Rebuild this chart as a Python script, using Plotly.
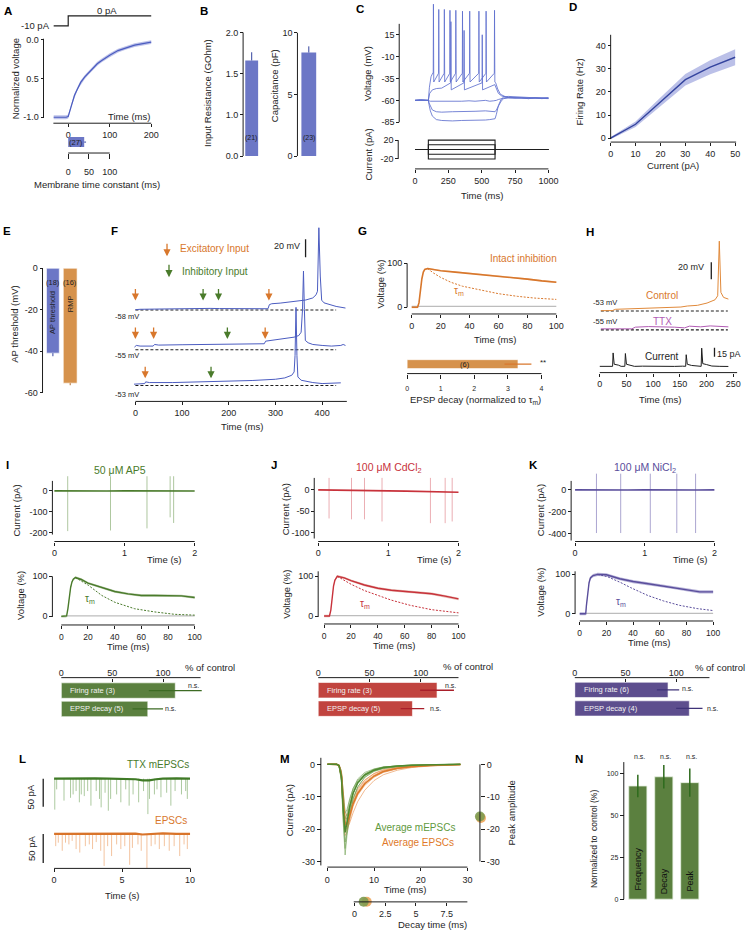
import plotly.graph_objects as go

W, H = 753, 935
FONT = "Liberation Sans, Arial, Helvetica, sans-serif"
INK = "#1e1e1e"

BLUE_BAR = "#6c77c6"; BLUE_LINE = "#4b5cc0"; BLUE_DARK = "#34449e"; BLUE_BAND = "rgba(108,120,206,0.45)"
BLUE_TRACE = "#6070cf"
ORANGE_BAR = "#d6924c"; ORANGE = "#d8772c"; ORANGE_BAND = "rgba(222,140,70,0.40)"
GREEN = "#4a7b2b"; GREEN_BAR = "#5b803f"; GREEN_LIGHT = "rgba(90,140,60,0.55)"; GREEN_BAND = "rgba(100,140,70,0.45)"
RED = "#c8323b"; RED_BAR = "#c1443f"; RED_LIGHT = "rgba(215,90,100,0.55)"; RED_BAND = "rgba(200,110,90,0.45)"
PURPLE = "#5a4e9c"; PURPLE_BAR = "#5d4e8e"; PURPLE_LIGHT = "rgba(100,90,170,0.6)"; PURPLE_BAND = "rgba(100,90,170,0.45)"
TTX_C = "#b25cb4"
GRAY = "#bdbdbd"

# ======================= DATA =======================
# A
A_t = [-35, -20, -5, 0, 3, 6, 10, 15, 20, 25, 30, 40, 50, 60, 70, 80, 90, 100, 120, 140, 160, 180, 200]
A_v = [-1.0, -1.0, -1.0, -0.99, -0.93, -0.87, -0.8, -0.72, -0.66, -0.6, -0.55, -0.48, -0.42, -0.36,
       -0.31, -0.27, -0.23, -0.2, -0.14, -0.1, -0.07, -0.05, -0.03]
A_sem = 0.025
A_stim_t = [-35, 0, 0, 200]
A_stim_i = [-10, -10, 0, 0]
A_tau, A_tau_sem = 38.5, 4.5
# B
B_rin, B_rin_sem = 1.66, 0.1
B_cap, B_cap_sem = 8.4, 0.5
# C
C_sub_t = [0, 40, 95, 100, 105, 115, 130, 160, 200, 280, 350, 405, 450, 528, 560, 590, 600, 610, 625,
           645, 665, 700, 750, 800, 850, 900, 950, 1000]
C_v0 = [-60, -59.5, -60, -60, -60.5, -61, -61, -61, -61.5, -61, -61, -60.5, -61, -60, -61, -60.5, -60.5,
        -60, -59, -58, -57.5, -57, -57.5, -57, -58, -57, -58, -57.5]
C_vm10 = [-60, -60, -60, -60, -63, -67, -71, -73, -73.5, -73, -72.5, -72, -72.5, -72, -72.5, -73, -73,
          -71, -66, -61, -58, -57, -57, -57.5, -58, -57.5, -58, -58]
C_vm20 = [-60, -59.5, -60, -60, -65, -72, -78, -82, -83, -83.5, -83, -83, -82.5, -82.5, -82, -81.5, -81,
          -76, -66, -59, -56, -55.5, -56, -56.5, -57, -57, -57.5, -57.5]
C20_pre_t = [0, 50, 95, 100, 108, 120, 132]
C20_pre_v = [-60, -59.5, -60, -60, -45, -33, -29]
C20_spk_t = [138, 178, 220, 262, 306, 356, 410, 479, 533, 596]
C20_spk_pk = [50, 44, 44, 43, 43, 42, 42, 42, 42, 43]
C20_thr, C20_ahp = -29, -39
C20_post_t = [605, 620, 640, 680, 750, 850, 1000]
C20_post_v = [-40, -47, -53, -56, -57, -57.5, -57]
C10_pre_t = [0, 60, 95, 100, 110, 130, 160, 200]
C10_pre_v = [-60, -60.5, -60, -60, -52, -48, -46.5, -46]
C10_spk_t = [269, 368, 504]
C10_spk_pk = [30, 20, 15]
C10_thr, C10_ahp = -40, -48
C10_post_t = [598, 610, 625, 650, 700, 800, 1000]
C10_post_v = [-42, -46, -52, -55, -57, -57, -57.5]
C_levels = [20, 10, 0, -10, -20]
C_step_t = [0, 100, 100, 600, 600, 1000]
# D
D_I = [0, 10, 20, 30, 40, 50]
D_f = [0, 6, 15.6, 25.3, 30.7, 35]
D_sem = [0.5, 1.2, 2, 2.5, 3, 3.5]
# E
E_vals = [-41, -55.5]
E_sem = [1.5, 1.0]
# F
F1_t = [0, 10, 40, 80, 120, 145, 160, 180, 220, 260, 284, 287, 292, 310, 340, 365, 380, 387, 390, 393,
        396, 399, 404, 415, 430, 450]
F1_v = [-57.6, -57.2, -57.0, -56.6, -56.2, -55.8, -56.2, -56.4, -56.6, -56.6, -56.6, -52.0, -51.0, -50.3,
        -48.6, -46.8, -44.5, -41.0, -37.0, 34.0, -20.0, -47.0, -50.0, -52.0, -54.0, -55.8]
F2_t = [-2, 2, 10, 38, 41, 50, 100, 150, 200, 250, 276, 279, 285, 300, 320, 340, 350, 355, 358, 360, 362,
        364, 370, 380, 400, 420, 440, 445, 450]
F2_v = [-52.0, -50.2, -50.9, -50.9, -49.1, -49.8, -49.4, -49.1, -49.4, -48.7, -48.3, -45.4, -45.0, -44.3,
        -42.8, -40.9, -39.1, -35.4, -10.0, 33.0, -10.0, -44.6, -47.2, -49.1, -50.2, -50.9, -50.2, -49.1, -50.2]
F3_t = [-3, 10, 20, 22, 30, 80, 150, 200, 250, 300, 320, 335, 340, 342, 344, 346, 348, 355, 380, 400, 420, 440]
F3_v = [-51.5, -51.5, -50.8, -48.9, -49.7, -49.7, -48.9, -48.2, -47.4, -46.0, -44.5, -41.5, -37.8, -19.3,
        34.4, -19.3, -43.4, -47.1, -49.7, -50.8, -50.8, -50.0]
F_rest = [-58, -55, -53]
F1_exc, F1_inh, F1_arr = [0, 286], [145, 178], -47.5
F2_exc, F2_inh, F2_arr = [0, 39, 278], [197], -43
F3_exc, F3_inh, F3_arr = [21], [162], -45
# G
G_t = [0, 4, 5, 6, 7, 8, 9, 11, 15, 20, 30, 40, 50, 60, 70, 80, 90, 100]
G_v = [0, 0, 10, 40, 65, 80, 86, 88, 86, 83, 80, 77, 74, 71, 68, 64, 60, 57]
G_tau_t = [11, 15, 20, 27, 35, 50, 60, 73, 85, 100]
G_tau_v = [88, 78, 68, 57, 48, 37, 31, 25, 21, 18]
G_sem = 2
G_base_t, G_base_v = [0, 100], [2, 2]
G_decay, G_decay_sem = 3.3, 0.4
# H
H_ctrl_t = [2, 23.5, 29.6, 60, 91, 103, 152, 164, 183, 201, 216, 221, 224, 227, 232, 241]
H_ctrl_v = [-52.6, -52.5, -51, -50.3, -49.5, -48.6, -48.3, -47.1, -46.3, -43.6, -39.7, -35, 29.7, -31, -36.9, -38.9]
H_ttx_t = [2, 60, 66.7, 91, 140, 159, 168, 189, 207, 241]
H_ttx_v = [-53.8, -53.8, -51.8, -51.1, -51.8, -52.6, -50.6, -51.4, -50.3, -51.4]
H_cur_t = [0, 10, 20, 24, 25, 27, 35, 40, 47, 48, 50, 58, 65, 80, 100, 120, 140, 155, 161, 162, 164, 172,
           180, 190, 191, 193, 200, 210, 225, 241]
H_cur_v = [0.5, 0.8, 0.3, 0.5, 23, 4, 2.5, 0.5, 0.6, 22, 4, 2, 0.5, 0.8, 0.3, 0.6, 0.4, 0.8, 0.6, 20, 4, 2,
           0.8, 0.5, 31, 5, 3.5, 1, 0.5, 0.3]
# I / J / K
BASE_T = [0, 0.25, 0.5, 0.75, 1.0, 1.25, 1.5, 1.75, 2.0]
I_base_v = [0, -1, 0, -1, 0, -1, -1, 0, -1]
I_spk_t = [0.19, 0.80, 1.32, 1.65, 1.70]
I_spk_lo = [-193, -190, -180, -127, -154]
I_spk_hi = 70
I_t = [0, 3, 4, 5, 6, 7, 8, 9, 10.6, 15, 20, 30, 40, 50, 60, 70, 80, 90, 100]
I_v = [0, 0, 1, 20, 50, 72, 86, 93, 97, 92, 83, 73, 62, 56, 52, 52, 52, 51, 47]
I_tau_t = [10.6, 20.5, 30.4, 40.2, 55, 70, 85, 100]
I_tau_v = [97, 77, 52, 35, 19, 11, 5, 3]
I_sem = 3
I_bar, I_bar_sem = [112, 85], [26, 15]
I_bar_lbl = ["Firing rate (3)", "EPSP decay (5)"]

J_base_v = [0, -1, -1.5, -2, -2.5, -3, -3.5, -4.5, -5.5]
J_spk_t = [0.155, 0.475, 0.66, 0.91, 1.60, 1.81, 1.91]
J_spk_lo = [-67, -69, -69, -74, -78, -78, -74]
J_spk_hi = 28
J_t = [0, 4, 5, 6, 7, 8, 9.8, 15, 20, 30, 40, 50, 60, 70, 80, 90, 100]
J_v = [0, 0, 15, 50, 75, 90, 100, 96, 89, 78, 70, 65, 62, 59, 56, 50, 43]
J_tau_t = [9.8, 20, 30, 40, 50, 64, 80, 100]
J_tau_v = [100, 80, 64, 52, 40, 27, 16, 8]
J_sem = 3
J_bar, J_bar_sem = [116, 92], [16.5, 11.5]
J_bar_lbl = ["Firing rate (3)", "EPSP decay (5)"]

K_base_v = [0, -2, 0, -2, 0, -2, 0, -2, 0]
K_spk_t = [0.307, 0.655, 1.08, 1.46, 1.73]
K_spk_lo = [-395, -395, -395, -395, -395]
K_spk_hi = 148
K_t = [0, 4.5, 5, 6, 7, 8, 10, 13.5, 20, 30, 40, 50, 60, 70, 80, 90, 100]
K_v = [0, 0, 20, 55, 78, 90, 96, 99, 98, 88, 81, 76, 71, 66, 61, 55, 55]
K_tau_t = [13.5, 21, 31, 38, 51, 63, 75, 88, 100]
K_tau_v = [99, 93, 78, 66, 46, 32, 21, 13, 8]
K_sem = 4
K_bar, K_bar_sem = [92, 113], [11, 13]
K_bar_lbl = ["Firing rate (6)", "EPSP decay (4)"]
# L
L1_t = [0.05, 0.19, 0.73, 1.21, 1.40, 1.62, 1.86, 2.00, 2.22, 2.47, 2.71, 3.10, 3.34, 3.46, 3.75, 3.99, 4.16,
        4.60, 4.91, 5.27, 5.52, 5.81, 6.22, 6.58, 6.90, 7.02, 7.38, 7.57, 7.86, 8.28, 8.59, 8.90, 9.37, 9.68, 9.80]
L1_amp = [55, 19, 39, 34, 28, 22, 42, 28, 31, 22, 48, 22, 36, 51, 25, 57, 36, 28, 42, 19, 48, 28, 42, 22, 63,
          36, 28, 19, 33, 25, 48, 22, 28, 22, 36]
L1_base_t = [0, 1, 2, 3, 4, 5, 6, 6.5, 7, 7.5, 8, 9, 10]
L1_base_v = [0, 0.5, 0, 0.5, 0, 0, -1, -3, -3, -1, 0, 0.5, 0]
L2_t = [0.12, 0.31, 0.60, 0.84, 1.09, 1.33, 1.62, 1.89, 2.30, 2.59, 2.83, 3.10, 3.43, 3.68, 3.94, 4.23, 4.60,
        4.91, 5.20, 5.56, 5.76, 6.17, 6.41, 6.83, 7.14, 7.43, 7.74, 8.11, 8.47, 8.83, 9.24, 9.56, 9.80]
L2_amp = [21, 15, 29, 15, 18, 12, 26, 32, 21, 18, 26, 14, 29, 55, 21, 38, 18, 26, 21, 53, 24, 18, 29, 59, 21,
          18, 26, 21, 29, 21, 38, 18, 26]
L2_base_t = [0, 1, 2, 3, 4, 5, 6, 6.5, 7, 7.5, 8, 9, 10]
L2_base_v = [0, 0, 0.5, 0, -0.5, 0, 0.5, -1, -0.5, 0.5, 1, 0, 0]
# M
M_t = [0, 1, 2, 2.5, 3, 3.4, 3.8, 4.2, 4.8, 5.5, 6.5, 8, 10, 12, 15, 18, 22, 26, 28.5]
M_green = [
    [0, 0, 0, -0.5, -5, -18, -28, -22, -16, -11, -7, -4, -2, -1.2, -0.6, -0.4, -0.2, -0.1, -0.1],
    [0, 0, 0, -0.3, -4, -15, -24, -20, -15, -10.5, -7, -4, -2.2, -1.3, -0.7, -0.4, -0.2, 0, 0],
    [0, 0.2, 0, -0.2, -3, -12, -20, -18, -13, -9, -6, -3.5, -2, -1.2, -0.6, -0.3, -0.2, -0.1, 0],
    [0, 0, 0, -0.4, -4, -13, -19, -16, -12, -8, -5, -3, -1.6, -0.9, -0.5, -0.3, -0.1, 0, 0],
    [0, 0, 0.1, -0.3, -3, -11, -17, -15, -11, -7.5, -4.5, -2.5, -1.4, -0.8, -0.4, -0.2, -0.1, 0, 0],
    [0, 0, 0, -0.2, -2, -9, -15, -14, -10.5, -7.5, -5, -3, -1.8, -1.1, -0.6, -0.3, -0.2, -0.1, 0],
    [0, 0, 0, -0.5, -5, -17, -26, -21, -14, -9, -5.5, -3, -1.5, -0.8, -0.4, -0.2, -0.1, 0, 0],
]
M_green_mean = [0, 0, 0, -0.35, -3.7, -13.6, -21, -18, -13, -9, -5.7, -3.3, -1.8, -1.0, -0.5, -0.3, -0.15, -0.05, 0]
M_orange = [
    [0, 0, 0, -0.3, -3, -12, -19, -20, -18, -15, -11.5, -8, -5, -3.2, -1.8, -1, -0.5, -0.3, -0.2],
    [0, 0, 0, -0.2, -2.5, -10, -16, -17, -14.5, -11.5, -8.5, -5.5, -3.3, -2, -1.1, -0.6, -0.3, -0.1, 0],
    [0, 0.1, 0, -0.4, -4, -14, -21, -20, -16, -12, -8, -5, -2.8, -1.6, -0.8, -0.4, -0.2, -0.1, 0],
    [0, 0, 0, -0.3, -3, -11, -18, -18, -15, -12, -9, -6, -3.8, -2.3, -1.3, -0.7, -0.4, -0.2, -0.1],
    [0, 0, 0, -0.2, -2, -9, -15, -16, -13.5, -10.5, -7.5, -4.8, -2.9, -1.8, -1, -0.5, -0.3, -0.1, 0],
    [0, 0, 0, -0.5, -4.5, -15, -22, -21, -17, -13, -9.5, -6.5, -4, -2.5, -1.4, -0.8, -0.4, -0.2, -0.1],
]
M_orange_mean = [0, 0, 0, -0.3, -3.2, -11.8, -18.5, -18.7, -15.7, -12.3, -9, -6, -3.6, -2.2, -1.2, -0.7, -0.35, -0.17, -0.07]
M_peak_green, M_peak_orange = -16.1, -16.6
M_decay_green, M_decay_orange = 0.75, 1.0
# N
N_cats = ["Frequency", "Decay", "Peak"]
N_vals = [67.5, 73, 69.5]
N_sem = [6.7, 7, 8.4]

# ======================= HELPERS =======================
fig = go.Figure()
LAY = {}
shapes = []
anns = []
cnt = [0]


def lin(c, a, b):
    p0, v0, p1, v1 = c
    k = (v1 - v0) / (p1 - p0)
    return [v0 + (a - p0) * k, v0 + (b - p0) * k]


def fmt(v):
    return str(int(v)) if float(v).is_integer() else str(v)


def sub(xd, yd, xc, yc, xo=None, yo=None):
    cnt[0] += 1
    i = cnt[0]
    xn = 'x' if i == 1 else 'x%d' % i
    yn = 'y' if i == 1 else 'y%d' % i
    xa = dict(domain=[xd[0] / W, xd[1] / W], range=lin(xc, xd[0], xd[1]), visible=False,
              fixedrange=True, anchor=yn, showgrid=False, zeroline=False)
    ya = dict(domain=[1 - yd[1] / H, 1 - yd[0] / H], range=lin(yc, yd[1], yd[0]), visible=False,
              fixedrange=True, anchor=xn, showgrid=False, zeroline=False)
    if xo:
        xa.update(xo)
    if yo:
        ya.update(yo)
    LAY['xaxis' if i == 1 else 'xaxis%d' % i] = xa
    LAY['yaxis' if i == 1 else 'yaxis%d' % i] = ya
    return (xn, yn)


def tk(vals, pos, text, size, side, ln, direction, standoff):
    d = dict(visible=True, showline=False, showgrid=False, zeroline=False, ticks=direction,
             ticklen=ln, tickwidth=1, tickcolor=INK, tickmode='array', tickvals=vals,
             ticktext=text if text else [fmt(v) for v in vals],
             tickfont=dict(size=size, color=INK, family=FONT), anchor='free',
             position=pos, side=side, showticklabels=True)
    if standoff is not None:
        d['ticklabelstandoff'] = standoff
    return d


def ytk(vals, xpx, text=None, size=9, side='left', ln=3, direction='outside', standoff=None):
    return tk(vals, xpx / W, text, size, side, ln, direction, standoff)


def xtk(vals, ypx, text=None, size=9, side='bottom', ln=3, direction='outside', standoff=None):
    return tk(vals, 1 - ypx / H, text, size, side, ln, direction, standoff)


def hl(y, x0, x1, w=1, color=INK):
    shapes.append(dict(type='line', xref='paper', yref='paper', x0=x0 / W, x1=x1 / W,
                       y0=1 - y / H, y1=1 - y / H, line=dict(color=color, width=w)))


def vl(x, y0, y1, w=1, color=INK):
    shapes.append(dict(type='line', xref='paper', yref='paper', x0=x / W, x1=x / W,
                       y0=1 - y0 / H, y1=1 - y1 / H, line=dict(color=color, width=w)))


def text(xp, yp, s, size=9.5, color=INK, xa='center', ya='middle', angle=0, bold=False):
    anns.append(dict(x=xp / W, y=1 - yp / H, xref='paper', yref='paper',
                     text=('<b>%s</b>' % s) if bold else s, showarrow=False,
                     font=dict(size=size, color=color, family=FONT), xanchor=xa, yanchor=ya,
                     textangle=angle, borderpad=0))


def line(ax, x, y, color, width=1.0, dash=None, opacity=1.0):
    fig.add_trace(go.Scatter(x=list(x), y=list(y), mode='lines', xaxis=ax[0], yaxis=ax[1],
                             line=dict(color=color, width=width, dash=dash), opacity=opacity,
                             hoverinfo='skip', showlegend=False))


def band(ax, x, lo, hi, color):
    x = list(x)
    fig.add_trace(go.Scatter(x=x + x[::-1], y=list(hi) + list(lo)[::-1], mode='lines', fill='toself',
                             fillcolor=color, line=dict(width=0), xaxis=ax[0], yaxis=ax[1],
                             hoverinfo='skip', showlegend=False))


def dot(ax, x, y, color, size=10):
    fig.add_trace(go.Scatter(x=[x], y=[y], mode='markers', xaxis=ax[0], yaxis=ax[1],
                             marker=dict(size=size, color=color, line=dict(width=0)),
                             cliponaxis=False, hoverinfo='skip', showlegend=False))


def arrow_data(ax, t, v, color, length=13):
    anns.append(dict(x=t, y=v, xref=ax[0], yref=ax[1], ax=0, ay=-length, text='', showarrow=True,
                     arrowhead=2, arrowsize=1.1, arrowwidth=1.3, arrowcolor=color, standoff=0))


def arrow_paper(xp, yhead, ytail, color):
    anns.append(dict(x=xp / W, y=1 - yhead / H, xref='paper', yref='paper', ax=0, ay=-(yhead - ytail),
                     text='', showarrow=True, arrowhead=2, arrowsize=1.1, arrowwidth=1.3,
                     arrowcolor=color, standoff=0))


def spiking(pre_t, pre_v, spk_t, spk_pk, thr, ahp, post_t, post_v):
    t, v = list(pre_t), list(pre_v)
    for s, p in zip(spk_t, spk_pk):
        t += [s - 1.5, s, s + 2.5]
        v += [thr, p, ahp]
    return t + list(post_t), v + list(post_v)


def spikes(ax, ts, lo, hi, color, width=0.9):
    xs, ys = [], []
    los = lo if isinstance(lo, list) else [lo] * len(ts)
    for t, l in zip(ts, los):
        xs += [t, t, None]
        ys += [hi, l, None]
    fig.add_trace(go.Scatter(x=xs, y=ys, mode='lines', xaxis=ax[0], yaxis=ax[1],
                             line=dict(color=color, width=width), hoverinfo='skip', showlegend=False))


def events(ax, ts, amps, color, width=0.8):
    xs, ys = [], []
    for t, a in zip(ts, amps):
        xs += [t, t, None]
        ys += [0, -a, None]
    fig.add_trace(go.Scatter(x=xs, y=ys, mode='lines', xaxis=ax[0], yaxis=ax[1],
                             line=dict(color=color, width=width), hoverinfo='skip', showlegend=False))


def hbar(ax, vals, sems, color, ecolor, width, ypos):
    fig.add_trace(go.Bar(x=vals, y=ypos, orientation='h', width=width, xaxis=ax[0], yaxis=ax[1],
                         marker=dict(color=color, line=dict(color='rgba(255,255,255,0.6)', width=1)),
                         error_x=dict(type='data', array=sems, color=ecolor, thickness=1.3, width=0),
                         hoverinfo='skip', showlegend=False))


# ======================= PANEL A =======================
axA = sub((40, 152), (30, 125), (66, 0, 108, 100), (117, -1, 39, 0),
          xtk([0, 100, 200], 123), ytk([-1, -0.5, 0], 41, ['-1.0', '0.5', '0.0']))
hl(123, 51, 150); vl(41, 38, 117)
band(axA, A_t, [v - A_sem for v in A_v], [v + A_sem for v in A_v], BLUE_BAND)
line(axA, A_t, A_v, BLUE_LINE, 1.2)
axAs = sub((40, 152), (8, 30), (66, 0, 108, 100), (25, -10, 15, 0))
line(axAs, A_stim_t, A_stim_i, INK, 1.2)
text(49, 25, '-10 pA', 9.5, xa='right'); text(105, 10, '0 pA', 9.5)
text(128, 116, 'Time (ms)'); text(13, 78, 'Normalized voltage', angle=-90)
axAb = sub((60, 112), (135, 149), (66, 0, 108, 100), (142, 0, 132, 1),
           xtk([0, 50, 100], 153, ln=5, standoff=5))
fig.add_trace(go.Bar(x=[A_tau], y=[0], orientation='h', width=1.0, xaxis=axAb[0], yaxis=axAb[1],
                     marker=dict(color=BLUE_BAR, line=dict(width=0)),
                     error_x=dict(type='data', symmetric=False, array=[A_tau_sem], arrayminus=[0],
                                  color=BLUE_DARK, thickness=1, width=0),
                     hoverinfo='skip', showlegend=False))
hl(153, 66, 108)
text(74, 142, '(27)', 7.5); text(95, 185, 'Membrane time constant (ms)')

# ======================= PANEL B =======================
axB1 = sub((243, 262), (28, 156), (251.7, 0, 270.3, 1), (156, 0.5, 31.7, 2.0), None,
           ytk([0.5, 1, 1.5, 2], 243, ['0.0', '1.0', '1.5', '2.0']))
fig.add_trace(go.Bar(x=[0], y=[B_rin], width=0.7, xaxis=axB1[0], yaxis=axB1[1],
                     marker=dict(color=BLUE_BAR, line=dict(width=0)),
                     error_y=dict(type='data', symmetric=False, array=[B_rin_sem], arrayminus=[0],
                                  color=BLUE_DARK, thickness=1, width=0),
                     hoverinfo='skip', showlegend=False))
vl(243, 31.7, 156)
text(251.5, 138, '(21)', 7); text(207, 93, 'Input Resistance (GOhm)', angle=-90)
axB2 = sub((298, 322), (28, 156), (309.5, 0, 330.9, 1), (156, 0, 32, 10), None, ytk([0, 5, 10], 298))
fig.add_trace(go.Bar(x=[0], y=[B_cap], width=0.7, xaxis=axB2[0], yaxis=axB2[1],
                     marker=dict(color=BLUE_BAR, line=dict(width=0)),
                     error_y=dict(type='data', symmetric=False, array=[B_cap_sem], arrayminus=[0],
                                  color=BLUE_DARK, thickness=1, width=0),
                     hoverinfo='skip', showlegend=False))
vl(298, 32, 156)
text(309.5, 138, '(23)', 7); text(275, 85, 'Capacitance (pF)', angle=-90)

# ======================= PANEL C =======================
axCv = sub((401, 556), (0, 124), (417, 0, 552, 1000), (100, -60, 78, -35), None,
           ytk([-85, -60, -35, -10, 15], 401))
vl(401, 23, 122)
for vv in (C_v0, C_vm10, C_vm20):
    line(axCv, C_sub_t, vv, BLUE_TRACE, 0.85)
t10, v10 = spiking(C10_pre_t, C10_pre_v, C10_spk_t, C10_spk_pk, C10_thr, C10_ahp, C10_post_t, C10_post_v)
line(axCv, t10, v10, BLUE_TRACE, 0.85)
t20, v20 = spiking(C20_pre_t, C20_pre_v, C20_spk_t, C20_spk_pk, C20_thr, C20_ahp, C20_post_t, C20_post_v)
line(axCv, t20, v20, BLUE_TRACE, 0.85)
axCi = sub((401, 556), (134, 164), (417, 0, 552, 1000), (140, 20, 159, -20),
           xtk([0, 250, 500, 750, 1000], 169), ytk([-20, 20], 400))
for L in C_levels:
    line(axCi, C_step_t, [0, 0, L, L, 0, 0], INK, 1.1)
vl(400, 140, 159); hl(169, 417, 552)
text(369, 73, 'Voltage (mV)', angle=-90); text(369, 155, 'Current (pA)', angle=-90)
text(485, 196, 'Time (ms)')

# ======================= PANEL D =======================
axD = sub((612, 746), (30, 143), (615, 0, 741, 50), (138, 0, 45, 40),
          xtk([0, 10, 20, 30, 40, 50], 142), ytk([0, 10, 20, 30, 40], 615))
hl(142, 615, 742); vl(615, 34, 139)
band(axD, D_I, [f - s for f, s in zip(D_f, D_sem)], [f + s for f, s in zip(D_f, D_sem)], "rgba(120,130,210,0.5)")
line(axD, D_I, D_f, BLUE_DARK, 1.4)
text(583, 92, 'Firing Rate (Hz)', angle=-90); text(678, 166, 'Current (pA)')

# ======================= PANEL E =======================
axE = sub((40, 82), (262, 400), (50.5, 0, 68, 1), (269, 0, 394, -60), None, ytk([-60, -40, -20, 0], 40))
for i, (val, sem, col, ecol, wd) in enumerate(zip(E_vals, E_sem, [BLUE_BAR, ORANGE_BAR],
                                                   [BLUE_DARK, "#b06a2a"], [0.74, 0.8])):
    fig.add_trace(go.Bar(x=[i], y=[val], width=wd, xaxis=axE[0], yaxis=axE[1],
                         marker=dict(color=col, line=dict(color='rgba(255,255,255,0.6)', width=1)),
                         error_y=dict(type='data', symmetric=False, array=[0], arrayminus=[sem],
                                      color=ecol, thickness=1, width=0),
                         hoverinfo='skip', showlegend=False))
vl(40, 269, 394)
text(50.5, 283, '(18)', 7.5); text(68, 283, '(16)', 7.5)
text(50.5, 313, 'AP threshold', 7.5, angle=-90); text(68, 305, 'RMP', 7.5, angle=-90)
text(12, 325, 'AP threshold (mV)', angle=-90)

# ======================= PANEL F =======================
axF1 = sub((128, 350), (222, 318), (134, 0, 323, 400), (311, -58, 293, -38))
axF2 = sub((128, 350), (266, 358), (134, 0, 323, 400), (351, -55, 333, -35))
axF3 = sub((128, 350), (302, 396), (134, 0, 323, 400), (387, -53, 369, -33),
           xtk([0, 100, 200, 300, 400], 403))
hl(403, 134, 348)
for ax, tt, vv, rest in ((axF1, F1_t, F1_v, F_rest[0]), (axF2, F2_t, F2_v, F_rest[1]), (axF3, F3_t, F3_v, F_rest[2])):
    line(ax, [0, 430], [rest, rest], INK, 1.2, dash='3px,2px')
    line(ax, tt, vv, BLUE_LINE, 1.0)
for ax, exc, inh, av in ((axF1, F1_exc, F1_inh, F1_arr), (axF2, F2_exc, F2_inh, F2_arr), (axF3, F3_exc, F3_inh, F3_arr)):
    for t in exc:
        arrow_data(ax, t, av, ORANGE)
    for t in inh:
        arrow_data(ax, t, av, GREEN)
text(125, 318, '-58 mV', 7.5); text(125, 357, '-55 mV', 7.5); text(125, 396, '-53 mV', 7.5)
arrow_paper(166, 257, 243, ORANGE); arrow_paper(168, 278, 264, GREEN)
text(178, 249, 'Excitatory Input', 10, ORANGE, xa='left'); text(180, 272, 'Inhibitory Input', 10, GREEN, xa='left')
shapes.append(dict(type='line', xref=axF1[0], yref=axF1[1], x0=364.5, x1=364.5, y0=1, y1=21,
                   line=dict(color=INK, width=1.3)))
text(287, 247, '20 mV', 9)
text(242, 428, 'Time (ms)')

# ======================= PANEL G =======================
axG = sub((409, 562), (255, 318), (413.7, 0, 560, 100), (308.3, 0, 264, 100),
          xtk([0, 20, 40, 60, 80, 100], 315), ytk([0, 100], 409))
vl(409, 264, 308.3); hl(315, 413.7, 560)
line(axG, G_base_t, G_base_v, GRAY, 1.2)
band(axG, G_t, [v - G_sem for v in G_v], [v + G_sem for v in G_v], ORANGE_BAND)
line(axG, G_t, G_v, ORANGE, 1.6)
line(axG, G_tau_t, G_tau_v, ORANGE, 1.0, dash='2px,1.5px')
text(527, 259, 'Intact inhibition', 10, ORANGE); text(462, 292, 'τ<sub>m</sub>', 10, ORANGE)
text(498, 341, 'Time (ms)'); text(382, 285, 'Voltage (%)', angle=-90)
axGb = sub((409, 552), (358, 373), (409, 0, 545, 4), (365.5, 0, 356.5, 1),
           xtk([0, 1, 2, 3, 4], 375, size=7, ln=4, standoff=4))
hbar(axGb, [G_decay], [G_decay_sem], ORANGE_BAR, ORANGE, 1.0, [0])
hl(375, 409, 545)
text(468, 366, '(6)', 7.5); text(547, 364, '**', 8)
text(478, 402, 'EPSP decay (normalized to τ<sub>m</sub>)')

# ======================= PANEL H =======================
axHc = sub((600, 746), (234, 318), (604, 0, 712, 200), (312, -53, 295, -33))
axHt = sub((600, 746), (318, 340), (604, 0, 712, 200), (331, -55, 314, -35))
axHi = sub((600, 746), (342, 372), (604, 0, 712, 200), (368, 0, 359, 15),
           xtk([0, 50, 100, 150, 200, 250], 374))
hl(374, 604, 743)
line(axHc, [2, 240], [-53, -53], INK, 1.2, dash='3px,2px')
line(axHc, H_ctrl_t, H_ctrl_v, "#e0893a", 1.0)
line(axHt, [2, 240], [-55, -55], INK, 1.2, dash='3px,2px')
line(axHt, H_ttx_t, H_ttx_v, TTX_C, 1.0)
line(axHi, H_cur_t, H_cur_v, INK, 1.0)
shapes.append(dict(type='line', xref=axHc[0], yref=axHc[1], x0=209, x1=209, y0=-15.4, y1=4.6,
                   line=dict(color=INK, width=1.3)))
shapes.append(dict(type='line', xref=axHi[0], yref=axHi[1], x0=215, x1=215, y0=16.7, y1=31.7,
                   line=dict(color=INK, width=1.3)))
text(696, 268, '20 mV', 9); text(735, 355, '15 pA', 9)
text(667, 296, 'Control', 10, "#d9782c"); text(667, 323, 'TTX', 10, TTX_C); text(667, 358, 'Current', 10)
text(609, 303, '-53 mV', 7.5); text(609, 323, '-55 mV', 7.5)
text(665, 401, 'Time (ms)')


# ======================= PANELS I / J / K =======================
def drug_panel(c, v, b, base_v, spk_t, spk_lo, spk_hi, tt, vv, tau_t, tau_v, sem, bars, bsem, blbl,
               col, col_light, col_band, col_bar, col_err, lbl):
    ax1 = sub(c['xd'], c['yd'], c['xc'], c['yc'], xtk([0, 1, 2], 544), ytk(c['ticks'], c['axx']))
    hl(544, c['xc'][0], c['xc'][2]); vl(c['axx'], c['line'][0], c['line'][1])
    spikes(ax1, spk_t, spk_lo, spk_hi, col_light, 0.9)
    line(ax1, BASE_T, base_v, col, 1.6)
    ax2 = sub(v['xd'], v['yd'], v['xc'], v['yc'],
              xtk([0, 20, 40, 60, 80, 100], v['xly'], size=8.5, standoff=1),
              ytk([0, 100], v['axx']))
    vl(v['axx'], v['line'][0], v['line'][1]); hl(v['xly'], v['xc'][0], v['xc'][2])
    line(ax2, [4, 100], [1, 1], GRAY, 1.2)
    band(ax2, tt, [x - sem for x in vv], [x + sem for x in vv], col_band)
    line(ax2, tt, vv, col, 1.4)
    line(ax2, tau_t, tau_v, col, 1.0, dash='2px,1.5px')
    ax3 = sub(b['xd'], b['yd'], b['xc'], b['yc'],
              xtk([0, 50, 100], 681, side='top', direction='inside'))
    hl(681, b['xc'][0], b['x1'])
    hbar(ax3, bars, bsem, col_bar, col_err, b['w'], [0, 1])
    for k in range(2):
        text(b['xc'][0] + 8, b['ty'][k], blbl[k], 7.5, '#f2f2f2', xa='left')
        text(b['ns'][k][0], b['ns'][k][1], 'n.s.', 7)
    text(lbl['title'][0], lbl['title'][1], lbl['title'][2], 10.5, col)
    text(lbl['cur'][0], lbl['cur'][1], 'Current (pA)', angle=-90)
    text(lbl['ts'][0], lbl['ts'][1], 'Time (s)')
    text(lbl['volt'][0], lbl['volt'][1], 'Voltage (%)', angle=-90)
    text(lbl['tms'][0], lbl['tms'][1], 'Time (ms)')
    text(lbl['tau'][0], lbl['tau'][1], 'τ<sub>m</sub>', 10, col)
    text(lbl['pc'][0], lbl['pc'][1], '% of control', 9.5, xa=lbl['pc'][2])


drug_panel(dict(xd=(48, 198), yd=(474, 541), xc=(52, 0, 194, 2), yc=(493, 0, 535, -200),
                ticks=[-200, -100, 0], axx=50, line=(483, 537)),
           dict(xd=(55, 198), yd=(572, 623), xc=(59, 0, 194, 100), yc=(619.3, 0, 579, 100),
                axx=50, line=(579, 620), xly=628),
           dict(xd=(59, 215), yd=(684, 722), xc=(59, 0, 162, 100), yc=(694, 0, 712.5, 1), x1=200,
                w=0.84, ty=[694, 712.5], ns=[(193, 688.5), (170, 712)]),
           I_base_v, I_spk_t, I_spk_lo, I_spk_hi, I_t, I_v, I_tau_t, I_tau_v, I_sem, I_bar, I_bar_sem,
           I_bar_lbl, GREEN, GREEN_LIGHT, GREEN_BAND, GREEN_BAR, "#3d6b24",
           dict(title=(118, 472, '50 μM AP5'), cur=(14, 513), ts=(163, 562), volt=(17, 598),
                tms=(127, 649.5), tau=(88, 602), pc=(209, 671, 'center')))

drug_panel(dict(xd=(313, 465), yd=(474, 543), xc=(319, 0, 461, 2), yc=(492, 0, 535, -100),
                ticks=[-100, -50, 0], axx=315, line=(480, 541)),
           dict(xd=(319, 465), yd=(572, 622), xc=(325, 0, 461, 100), yc=(619, 0, 579, 100),
                axx=319, line=(574, 620), xly=627),
           dict(xd=(319, 470), yd=(684, 722), xc=(319, 0, 422.7, 100), yc=(693.7, 0, 712.2, 1), x1=461,
                w=0.84, ty=[693.7, 712.2], ns=[(453, 689), (438, 712)]),
           J_base_v, J_spk_t, J_spk_lo, J_spk_hi, J_t, J_v, J_tau_t, J_tau_v, J_sem, J_bar, J_bar_sem,
           J_bar_lbl, RED, RED_LIGHT, RED_BAND, RED_BAR, "#a91f2a",
           dict(title=(391, 470, '100 μM CdCl<sub>2</sub>'), cur=(286, 512), ts=(436, 562), volt=(287, 597),
                tms=(396, 648.5), tau=(366, 607), pc=(471, 670, 'center')))

drug_panel(dict(xd=(573, 725), yd=(474, 545), xc=(579, 0, 720, 2), yc=(492, 0, 536, -400),
                ticks=[-400, -200, 0], axx=575, line=(483, 543)),
           dict(xd=(579, 725), yd=(570, 620), xc=(583.7, 0, 718.7, 100), yc=(616.7, 0, 576.7, 100),
                axx=579, line=(574, 617), xly=624),
           dict(xd=(578.7, 740), yd=(684, 722), xc=(578.7, 0, 681.3, 100), yc=(693.3, 0, 712, 1), x1=715,
                w=0.82, ty=[693.3, 712], ns=[(693, 692), (718, 712)]),
           K_base_v, K_spk_t, K_spk_lo, K_spk_hi, K_t, K_v, K_tau_t, K_tau_v, K_sem, K_bar, K_bar_sem,
           K_bar_lbl, PURPLE, PURPLE_LIGHT, PURPLE_BAND, PURPLE_BAR, "#3f3378",
           dict(title=(650, 470, '100 μM NiCl<sub>2</sub>'), cur=(544, 512), ts=(695, 562), volt=(544, 595),
                tms=(654, 645.5), tau=(625, 605), pc=(699, 671, 'left')))

# ======================= PANEL L =======================
axL1 = sub((48, 192), (770, 822), (51.7, 0, 189.3, 10), (782.7, 0, 811, -50))
axL2 = sub((48, 192), (828, 876), (51.7, 0, 189.3, 10), (838.3, 0, 867.6, -50), xtk([0, 5, 10], 873))
hl(873, 51.7, 190)
events(axL1, L1_t, L1_amp, "rgba(95,150,70,0.65)", 0.8)
line(axL1, L1_base_t, L1_base_v, "#3f7a26", 2.2)
events(axL2, L2_t, L2_amp, "rgba(232,140,70,0.65)", 0.8)
line(axL2, L2_base_t, L2_base_v, "#d9742a", 2.2)
for ax in (axL1, axL2):
    shapes.append(dict(type='line', xref='paper', yref=ax[1], x0=40.7 / W, x1=40.7 / W, y0=0, y1=-50,
                       line=dict(color=INK, width=1.3)))
text(28.3, 800.8, '50 pA', 9.5, angle=-90); text(28.3, 852.5, '50 pA', 9.5, angle=-90)
text(157, 768, 'TTX mEPSCs', 10, GREEN); text(170, 825, 'EPSCs', 10, ORANGE)
text(120, 900.7, 'Time (s)')

# ======================= PANEL M =======================
axM = sub((322, 472), (760, 871), (328.3, 0, 470, 30), (768.3, 0, 866, -30),
          xtk([0, 10, 20, 30], 871.7, standoff=1), ytk([-30, -20, -10, 0], 321.7, ln=4))
hl(871.7, 328.3, 470); vl(321.7, 761.7, 870)
for tr in M_orange:
    line(axM, M_t, tr, "rgba(232,140,70,0.75)", 0.8)
for tr in M_green:
    line(axM, M_t, tr, "rgba(110,160,80,0.75)", 0.8)
line(axM, M_t, M_orange_mean, "#dd7a2a", 1.5)
line(axM, M_t, M_green_mean, "#4f8a30", 1.5)
text(416.7, 831.7, 'Average mEPSCs', 10, "#5f9a3e"); text(420, 847.3, 'Average EPSCs', 10, "#e07a2a")
text(406.7, 894.5, 'Time (ms)'); text(290, 815, 'Current (pA)', angle=-90)
axMp = sub((476, 490), (760, 871), (482.7, 0, 492.7, 1), (768.3, 0, 866, -30), None,
           ytk([-30, -20, -10, 0], 482.7, side='right', ln=4))
vl(482.7, 768.3, 866)
dot(axMp, 0.1, M_peak_orange, "rgba(238,165,90,0.9)")
dot(axMp, 0, M_peak_green, "rgba(125,155,80,0.9)")
text(515, 817, 'Peak amplitude', angle=-90)
axMd = sub((352, 472), (900, 913), (355.7, 0, 449, 7.5), (906.5, 0, 900.5, 1), xtk([0, 2.5, 5, 7.5], 906.7))
hl(906.7, 355, 470)
dot(axMd, M_decay_orange, 0, "rgba(238,165,90,0.9)")
dot(axMd, M_decay_green, 0, "rgba(125,155,80,0.9)")
text(435, 929.3, 'Decay time (ms)')

# ======================= PANEL N =======================
axN = sub((628.3, 712), (764, 906), (642.5, 0, 668.8, 1), (904, 0, 861.8, 25), None,
          ytk([0, 25, 50, 75], 628.3, ['0', '25', '50', '100'], size=7, ln=4))
fig.add_trace(go.Bar(x=[0, 1, 2], y=N_vals, width=0.7, xaxis=axN[0], yaxis=axN[1],
                     marker=dict(color=GREEN_BAR, line=dict(color='rgba(230,240,225,0.8)', width=1)),
                     error_y=dict(type='data', array=N_sem, color="#2e6b1d", thickness=1.5, width=0),
                     hoverinfo='skip', showlegend=False))
vl(628.3, 766, 904)
text(642.7, 874, N_cats[0], 9, '#111', angle=-90)
text(669, 886, N_cats[1], 9, '#111', angle=-90)
text(695.5, 886, N_cats[2], 9, '#111', angle=-90)
for xp in (644, 670.7, 696.7):
    text(xp, 760.7, 'n.s.', 7)
text(598.3, 843.3, 'Normalized to  control (%)', 8.5, angle=-90)

# ======================= PANEL LETTERS =======================
for lt, xp, yp in (('A', 5, 10), ('B', 203, 10), ('C', 361, 8), ('D', 577, 6), ('E', 4, 231),
                   ('F', 113, 231), ('G', 364, 231), ('H', 594, 232), ('I', 5, 467), ('J', 274, 467),
                   ('K', 537, 467), ('L', 20, 763), ('M', 285, 763), ('N', 583, 763)):
    text(xp, yp, lt, 11.5, '#000', bold=True)

LAY.update(dict(width=W, height=H, margin=dict(l=0, r=0, t=0, b=0), paper_bgcolor='white',
                plot_bgcolor='rgba(0,0,0,0)', font=dict(family=FONT, size=9, color=INK),
                barmode='overlay', showlegend=False, shapes=shapes, annotations=anns))
fig.update_layout(LAY)
fig.write_html("out.html", config={'displayModeBar': False},
               post_script="document.body.style.margin='0px';document.body.style.overflow='hidden';")
